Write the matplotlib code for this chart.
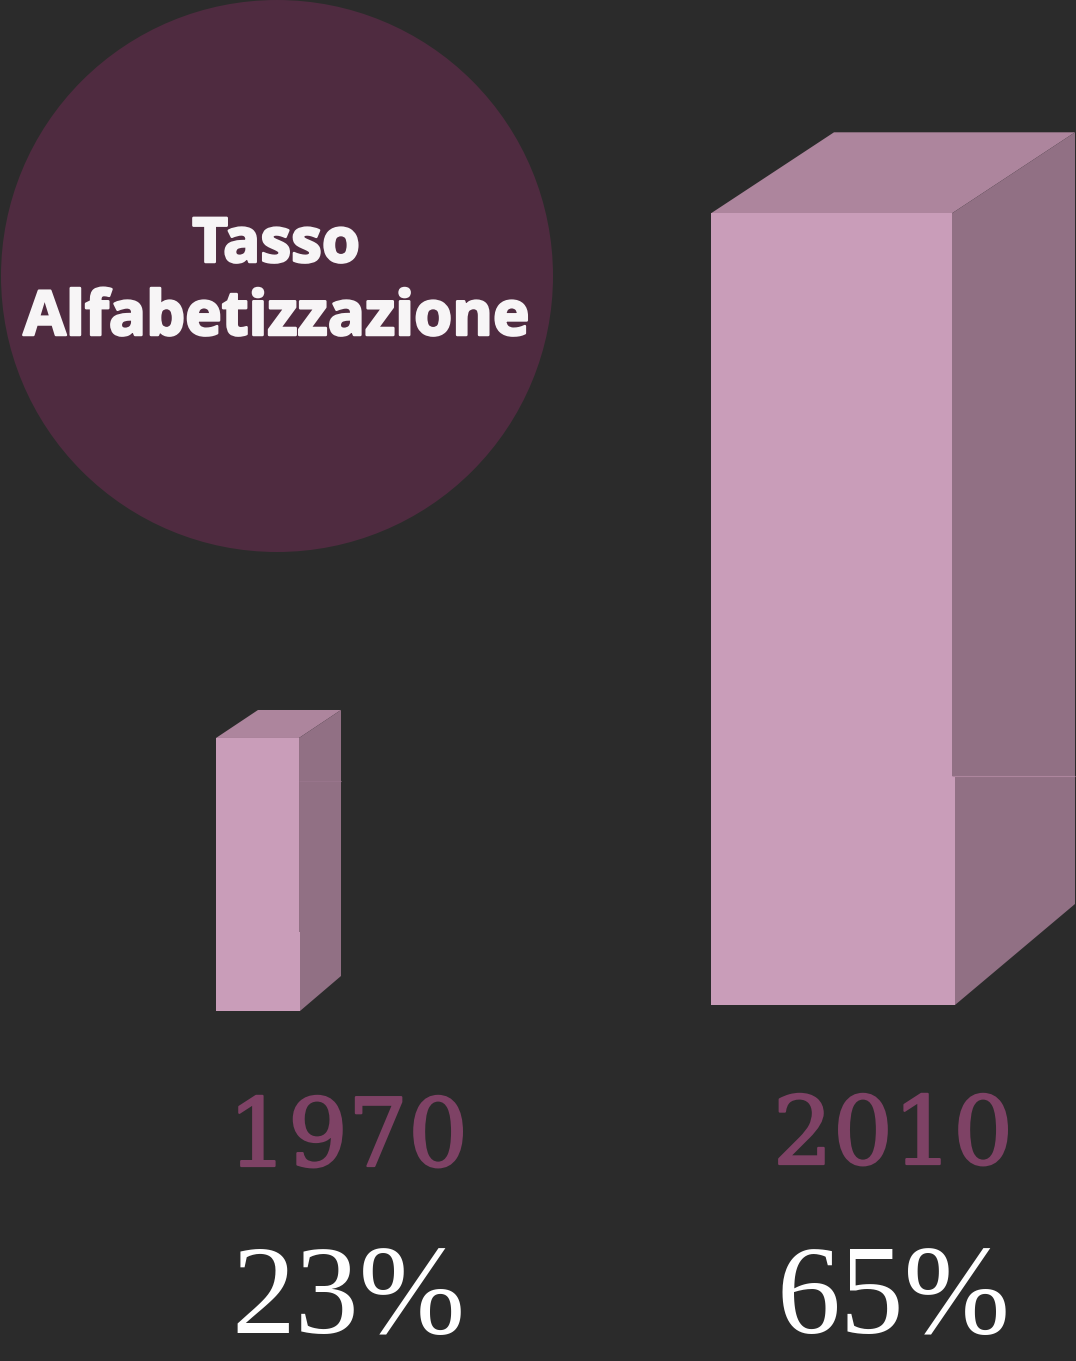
import matplotlib
matplotlib.use('Agg')
import matplotlib.pyplot as plt
import matplotlib.patheffects as pe
from matplotlib.patches import Circle, Polygon

title_lines = ['Tasso', 'Alfabetizzazione']
years = ['1970', '2010']
literacy = [23, 65]

# geometria in pixel dell'immagine
left = [216, 711]
width_top = [83, 241]
width_bottom = [84, 244]
baseline = [1011, 1005]
px_per_point = [11.87, 12.18]
seam = [932, 776]
side_seam = [781, 776]
depth_x = [42, 123]
depth_y = [28, 81]
bottom_rise = [35, 101]
year_x = [348, 893]
year_y = [1166, 1164]
label_x = [348, 893]

bg = '#2b2b2b'
circle_col = '#4f2b40'
front_col = '#c99db9'
top_col = '#ad859d'
side_col = '#917084'
year_col = '#7e4265'
seam_col = ['#97748a', '#ad859d']

fig = plt.figure(figsize=(10.76, 13.61), dpi=100, facecolor=bg)
ax = fig.add_axes([0, 0, 1, 1])
ax.set_xlim(0, 1076)
ax.set_ylim(1361, 0)
ax.axis('off')

ax.add_patch(Circle((277, 276), 276, fc=circle_col, ec='none'))
heavy = [pe.withStroke(linewidth=1.8, foreground='#f7f5f6')]
ax.text(276, 262, title_lines[0], color='#f7f5f6', fontsize=44.5, family='Open Sans',
        weight='bold', ha='center', va='baseline', path_effects=heavy)
ax.text(276, 335, title_lines[1], color='#f7f5f6', fontsize=44.5, family='Open Sans',
        weight='bold', ha='center', va='baseline', path_effects=heavy)

for i in range(len(years)):
    x0 = left[i]
    top = baseline[i] - literacy[i] * px_per_point[i]
    xt = x0 + width_top[i]
    xb = x0 + width_bottom[i]
    dx = depth_x[i]
    dy = depth_y[i]
    xr = xt + dx

    ax.add_patch(Polygon([(x0, top), (x0 + dx, top - dy), (xr, top - dy), (xt, top)],
                         fc=top_col, ec='none'))
    ax.add_patch(Polygon([(xt, top), (xr, top - dy), (xr, baseline[i] - bottom_rise[i]),
                          (xb, baseline[i]), (xb, seam[i]), (xt, seam[i])],
                         fc=side_col, ec='none'))
    ax.plot([xt, xr], [side_seam[i], side_seam[i]], color=seam_col[i], lw=0.8,
            solid_capstyle='butt')
    ax.bar(x0, seam[i] - top, width=width_top[i], bottom=top, align='edge',
           color=front_col, linewidth=0)
    ax.bar(x0, baseline[i] - seam[i], width=width_bottom[i], bottom=seam[i], align='edge',
           color=front_col, linewidth=0)

    ax.text(year_x[i], year_y[i], years[i], color=year_col, fontsize=68, family='DejaVu Serif',
            ha='center', va='baseline',
            path_effects=[pe.withStroke(linewidth=1.6, foreground=year_col)])
    ax.text(label_x[i], 1333, str(literacy[i]) + '%', color='white', fontsize=92,
            family='Liberation Serif', ha='center', va='baseline')

fig.savefig('out.png', dpi=100, facecolor=bg)
